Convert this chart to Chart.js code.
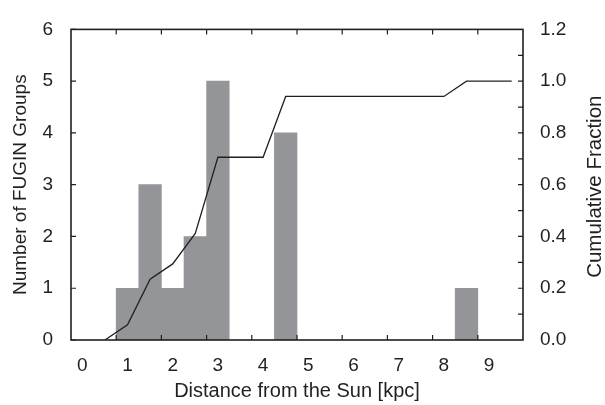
<!DOCTYPE html>
<html>
<head>
<meta charset="utf-8">
<script src="https://cdn.jsdelivr.net/npm/chart.js@4.4.0/dist/chart.umd.min.js"></script>
<style>
  html, body { margin: 0; padding: 0; background: #fff; }
  #wrap { width: 605px; height: 405px; }
</style>
</head>
<body>
<div id="wrap"><canvas id="dist-chart" width="605" height="405"></canvas></div>
<script>
// histogram: bin centres (kpc, in tick-label coordinates) and group counts
const binCenters = [1.0, 1.5, 2.0, 2.5, 3.0, 4.5, 8.5];
const groupCounts = [1, 3, 1, 2, 5, 4, 1];

// cumulative fraction curve
const cumDistance = [0.5, 1.0, 1.5, 2.0, 2.5, 3.0, 4.0, 4.5, 8.0, 8.5, 9.5];
const cumFraction = [0, 0.059, 0.235, 0.294, 0.412, 0.706, 0.706, 0.941, 0.941, 1.0, 1.0];

// tick labels and tick mark positions
const xTickLabels = [0, 1, 2, 3, 4, 5, 6, 7, 8, 9];
const xTickMarks = [0.75, 1.75, 2.75, 3.75, 4.75, 5.75, 6.75, 7.75, 8.75];
const leftTicks = [0, 1, 2, 3, 4, 5, 6];
const rightTicks = [0, 0.2, 0.4, 0.6, 0.8, 1.0, 1.2];
const rightMinorTicks = [0.1, 0.2, 0.3, 0.4, 0.5, 0.6, 0.7, 0.8, 0.9, 1.0, 1.1];

const INK = '#231f20';
const FONT = { family: '"Liberation Sans", Arial, Helvetica, sans-serif', size: 19 };
const RIGHT_TITLE = 'Cumulative Fraction';

// frame with inward tick marks on all four sides, plus the right-hand title
const frameTicks = {
    id: 'frameTicks',
    afterDraw(chart) {
        const { ctx, chartArea: a, scales } = chart;
        const len = 5;
        ctx.save();
        ctx.strokeStyle = INK;
        ctx.lineWidth = 1.2;
        ctx.beginPath();
        xTickMarks.forEach(v => {
            const px = scales.x.getPixelForValue(v);
            ctx.moveTo(px, a.bottom); ctx.lineTo(px, a.bottom - len);
            ctx.moveTo(px, a.top); ctx.lineTo(px, a.top + len);
        });
        leftTicks.forEach(v => {
            const py = scales.y.getPixelForValue(v);
            ctx.moveTo(a.left, py); ctx.lineTo(a.left + len, py);
        });
        rightMinorTicks.forEach(v => {
            const py = scales.y1.getPixelForValue(v);
            ctx.moveTo(a.right, py); ctx.lineTo(a.right - len, py);
        });
        ctx.stroke();
        ctx.lineWidth = 1.6;
        ctx.strokeRect(a.left, a.top, a.right - a.left, a.bottom - a.top);

        // right axis title reads bottom-to-top like the left one
        ctx.translate(595, (a.top + a.bottom) / 2 + 2);
        ctx.rotate(-Math.PI / 2);
        ctx.fillStyle = INK;
        ctx.font = `20.5px ${FONT.family}`;
        ctx.textAlign = 'center';
        ctx.textBaseline = 'middle';
        ctx.fillText(RIGHT_TITLE, 0, 0);
        ctx.restore();
    }
};

new Chart(document.getElementById('dist-chart'), {
    data: {
        datasets: [
            {
                type: 'line',
                label: 'Cumulative Fraction',
                data: cumDistance.map((d, i) => ({ x: d, y: cumFraction[i] })),
                yAxisID: 'y1',
                borderColor: INK,
                borderWidth: 1.3,
                pointRadius: 0,
                tension: 0,
                fill: false,
                order: 0
            },
            {
                type: 'bar',
                label: 'Number of FUGIN Groups',
                data: binCenters.map((d, i) => ({ x: d, y: groupCounts[i] })),
                yAxisID: 'y',
                backgroundColor: '#939598',
                borderWidth: 0,
                barPercentage: 1.0,
                categoryPercentage: 1.0,
                order: 1
            }
        ]
    },
    options: {
        responsive: false,
        animation: false,
        layout: { padding: { top: 15, left: 0, right: 0, bottom: 0 } },
        plugins: { legend: { display: false }, tooltip: { enabled: false } },
        scales: {
            x: {
                type: 'linear',
                offset: false,
                min: -0.25,
                max: 9.75,
                afterBuildTicks: s => { s.ticks = xTickLabels.map(v => ({ value: v })); },
                afterFit: s => { s.height = 65; },
                grid: { display: false, drawTicks: false, offset: false },
                border: { display: false },
                ticks: { color: INK, font: FONT, padding: 14, maxRotation: 0, autoSkip: false },
                title: { display: true, text: 'Distance from the Sun [kpc]', color: INK, font: { ...FONT, size: 20 }, padding: { bottom: 2 } }
            },
            y: {
                position: 'left',
                min: 0,
                max: 6,
                afterBuildTicks: s => { s.ticks = leftTicks.map(v => ({ value: v })); },
                afterFit: s => { s.width = 71; },
                grid: { display: false, drawTicks: false },
                border: { display: false },
                ticks: { color: INK, font: FONT, padding: 18 },
                title: { display: true, text: 'Number of FUGIN Groups', color: INK, font: FONT, padding: { top: 9 } }
            },
            y1: {
                position: 'right',
                min: 0,
                max: 1.2,
                afterBuildTicks: s => { s.ticks = rightTicks.map(v => ({ value: v })); },
                afterFit: s => { s.width = 82; },
                grid: { display: false, drawTicks: false },
                border: { display: false },
                ticks: { color: INK, font: FONT, padding: 17, callback: v => v.toFixed(1) },
                title: { display: false }
            }
        }
    },
    plugins: [frameTicks]
});
</script>
</body>
</html>
